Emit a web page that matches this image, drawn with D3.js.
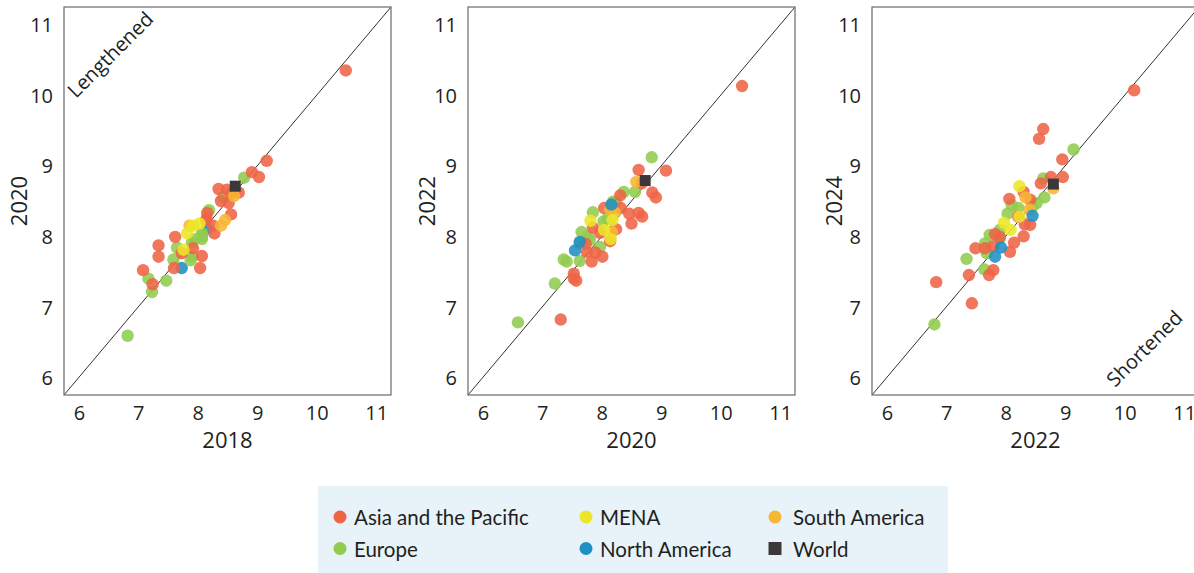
<!DOCTYPE html>
<html>
<head>
<meta charset="utf-8">
<script src="https://cdn.jsdelivr.net/npm/d3@7"></script>
<style>
  html, body { margin: 0; padding: 0; background: #ffffff; }
  svg { display: block; }
</style>
</head>
<body>
<svg id="chart" width="1194" height="573"></svg>
<script>
// Region keys, legend labels and colours
const regionKeys   = ["asia", "mena", "sa", "europe", "na", "world"];
const regionLabels = ["Asia and the Pacific", "MENA", "South America", "Europe", "North America", "World"];
const regionColors = ["#ee6445", "#ede628", "#f8b634", "#91cc4f", "#1f8fc4", "#3c3839"];

// Axis ticks shared by all three panels
const tickValues = [6, 7, 8, 9, 10, 11];

// Panel axis titles
const xTitles = ["2018", "2020", "2022"];
const yTitles = ["2020", "2022", "2024"];

// Panel 1: 2018 (x) against 2020 (y)
const asia1 = [[10.49,10.35],[9.16,9.07],[8.91,8.91],[9.03,8.84],[8.69,8.62],[8.35,8.67],[8.49,8.66],[8.56,8.61],[8.39,8.50],[8.52,8.47],[8.56,8.31],[8.16,8.33],[8.14,8.23],[8.15,8.25],[8.26,8.15],[8.28,8.04],[7.62,7.99],[7.34,7.87],[7.34,7.71],[7.73,7.76],[7.92,7.83],[8.07,7.72],[7.60,7.55],[8.04,7.55],[7.08,7.52],[7.24,7.32]];
const europe1 = [[8.78,8.83],[8.43,8.55],[8.19,8.37],[8.07,8.04],[8.07,7.96],[7.95,7.96],[8.07,8.00],[7.65,7.84],[7.90,7.91],[7.59,7.67],[7.88,7.66],[7.91,7.71],[7.17,7.40],[7.23,7.21],[7.47,7.37],[6.82,6.59]];
const mena1 = [[8.03,8.18],[7.92,8.15],[7.82,8.04],[7.76,7.81]];
const northAm1 = [[7.73,7.55],[8.16,8.11]];
const southAm1 = [[8.61,8.57],[8.46,8.23],[8.39,8.15],[7.86,8.15]];
const world1 = [[8.63,8.71]];

// Panel 2: 2020 (x) against 2022 (y)
const asia2 = [[10.36,10.13],[8.62,8.94],[9.08,8.93],[8.67,8.75],[8.85,8.62],[8.91,8.55],[8.31,8.58],[8.04,8.40],[8.32,8.40],[8.46,8.32],[8.62,8.33],[8.68,8.28],[8.50,8.18],[7.85,8.12],[8.24,8.10],[7.97,8.05],[8.14,7.93],[7.73,7.89],[7.75,7.78],[7.89,7.77],[8.01,7.71],[7.83,7.64],[7.53,7.47],[7.53,7.40],[7.57,7.37],[7.31,6.82]];
const europe2 = [[8.84,9.12],[8.56,8.63],[8.37,8.63],[8.24,8.49],[8.19,8.49],[7.85,8.34],[8.03,8.21],[8.10,8.25],[7.66,8.06],[7.77,7.99],[7.80,7.95],[7.97,7.85],[7.63,7.90],[7.63,7.65],[7.36,7.67],[7.41,7.64],[7.21,7.33],[6.59,6.78]];
const mena2 = [[7.81,8.22],[8.18,8.23],[8.04,8.09],[8.15,7.96]];
const northAm2 = [[8.16,8.45],[7.55,7.80],[7.63,7.92]];
const southAm2 = [[8.58,8.77],[8.14,8.38],[8.22,8.33],[8.17,8.06]];
const world2 = [[8.73,8.79]];

// Panel 3: 2022 (x) against 2024 (y)
const asia3 = [[10.16,10.07],[8.63,9.52],[8.56,9.38],[8.95,9.09],[8.96,8.84],[8.76,8.84],[8.59,8.75],[8.30,8.63],[8.06,8.53],[8.41,8.52],[8.32,8.17],[8.41,8.16],[8.21,8.28],[8.30,8.00],[8.14,7.91],[7.82,8.03],[7.90,7.99],[7.49,7.83],[7.65,7.83],[7.79,7.86],[8.07,7.78],[7.79,7.52],[7.72,7.45],[7.38,7.45],[6.83,7.35],[7.43,7.05]];
const europe3 = [[9.14,9.23],[8.63,8.82],[8.65,8.55],[8.10,8.44],[8.52,8.47],[8.45,8.42],[8.03,8.32],[8.21,8.40],[7.90,8.09],[7.73,8.02],[7.90,7.97],[7.65,7.90],[7.68,7.76],[7.34,7.68],[7.64,7.53],[6.80,6.75]];
const mena3 = [[8.23,8.71],[8.23,8.28],[7.97,8.19],[8.08,8.09]];
const northAm3 = [[8.45,8.29],[7.92,7.84],[7.82,7.71]];
const southAm3 = [[8.80,8.68],[8.33,8.55],[8.40,8.38]];
const world3 = [[8.80,8.74]];

// Regions per panel, with the order in which they are layered
const panels = [
  { europe: europe1, asia: asia1, sa: southAm1, na: northAm1, mena: mena1, world: world1,
    order: ["na", "europe", "asia", "sa", "mena", "world"] },
  { europe: europe2, asia: asia2, sa: southAm2, na: northAm2, mena: mena2, world: world2,
    order: ["europe", "asia", "sa", "na", "mena", "world"] },
  { europe: europe3, asia: asia3, sa: southAm3, na: northAm3, mena: mena3, world: world3,
    order: ["europe", "asia", "sa", "na", "mena", "world"] }
];
const colorOf = d3.scaleOrdinal().domain(regionKeys).range(regionColors);

// Layout
const domain = [5.75, 11.25];
const panelLeft = [64, 468, 872];
const panelWidth = 327;
const plotTop = 7, plotBottom = 395;
const yTitleOffset = [37, 33, 30];
const axisFont = "'Open Sans', 'DejaVu Sans', sans-serif";
const textColor = "#231f20";

const svg = d3.select("#chart");

panels.forEach((panel, i) => {
  const x = d3.scaleLinear().domain(domain).range([panelLeft[i], panelLeft[i] + panelWidth]);
  const y = d3.scaleLinear().domain(domain).range([plotBottom, plotTop]);
  const g = svg.append("g");

  // x axis
  const xAxis = g.append("g")
    .attr("transform", `translate(0,${plotBottom})`)
    .call(d3.axisBottom(x).tickValues(tickValues).tickSize(0).tickFormat(d3.format("d")));
  xAxis.select(".domain").remove();
  xAxis.selectAll("text")
    .attr("y", 25).attr("dy", null)
    .attr("font-family", axisFont).attr("font-size", 20).attr("fill", textColor);

  // y axis
  const yAxis = g.append("g")
    .attr("transform", `translate(${panelLeft[i]},0)`)
    .call(d3.axisLeft(y).tickValues(tickValues).tickSize(0).tickFormat(d3.format("d")));
  yAxis.select(".domain").remove();
  yAxis.selectAll("text")
    .attr("x", -11).attr("dy", "0.36em")
    .attr("font-family", axisFont).attr("font-size", 20).attr("fill", textColor);

  // 45-degree reference line
  g.append("line")
    .attr("x1", x(domain[0])).attr("y1", y(domain[0]))
    .attr("x2", x(domain[1])).attr("y2", y(domain[1]))
    .attr("stroke", "#1a1a1a").attr("stroke-width", 0.9);

  // points
  panel.order.forEach(key => {
    const pts = panel[key];
    if (key === "world") {
      g.selectAll(null).data(pts).enter().append("rect")
        .attr("x", d => x(d[0]) - 5.5).attr("y", d => y(d[1]) - 5.5)
        .attr("width", 11).attr("height", 11)
        .attr("fill", colorOf(key));
    } else {
      g.selectAll(null).data(pts).enter().append("circle")
        .attr("cx", d => x(d[0])).attr("cy", d => y(d[1]))
        .attr("r", 6.2)
        .attr("fill", colorOf(key)).attr("fill-opacity", 0.88);
    }
  });

  // frame
  g.append("rect")
    .attr("x", panelLeft[i]).attr("y", plotTop)
    .attr("width", panelWidth).attr("height", plotBottom - plotTop)
    .attr("fill", "none").attr("stroke", "#6a6a6a").attr("stroke-width", 1.2);

  // axis titles
  g.append("text")
    .attr("x", panelLeft[i] + panelWidth / 2).attr("y", 448)
    .attr("text-anchor", "middle")
    .attr("font-family", axisFont).attr("font-size", 22).attr("fill", textColor)
    .text(xTitles[i]);
  g.append("text")
    .attr("transform", `translate(${panelLeft[i] - yTitleOffset[i]},${(plotTop + plotBottom) / 2}) rotate(-90)`)
    .attr("text-anchor", "middle")
    .attr("font-family", axisFont).attr("font-size", 22).attr("fill", textColor)
    .text(yTitles[i]);
});

// Diagonal annotations
svg.append("text")
  .attr("transform", "translate(76,99) rotate(-45)")
  .attr("font-family", axisFont).attr("font-size", 20).attr("fill", textColor)
  .text("Lengthened");
svg.append("text")
  .attr("transform", "translate(1115,388) rotate(-45)")
  .attr("font-family", axisFont).attr("font-size", 20).attr("fill", textColor)
  .text("Shortened");

// Legend
const legendFont = "Lato, 'Open Sans', sans-serif";
const legend = svg.append("g");
legend.append("rect")
  .attr("x", 318).attr("y", 486).attr("width", 630).attr("height", 87)
  .attr("fill", "#e7f2f9");
const legendCols = [340, 586, 775];
const legendRows = [517, 548.5];
regionKeys.forEach((key, k) => {
  const cx = legendCols[k % 3];
  const cy = legendRows[Math.floor(k / 3)];
  if (key === "world") {
    legend.append("rect")
      .attr("x", cx - 6.5).attr("y", cy - 6.5).attr("width", 13).attr("height", 13)
      .attr("fill", colorOf(key));
  } else {
    legend.append("circle")
      .attr("cx", cx).attr("cy", cy).attr("r", 6.5)
      .attr("fill", colorOf(key));
  }
  legend.append("text")
    .attr("x", cx + (k % 3 === 2 ? 18 : 14)).attr("y", cy + 8)
    .attr("font-family", legendFont).attr("font-size", 20.5).attr("fill", textColor)
    .text(regionLabels[k]);
});
</script>
</body>
</html>
